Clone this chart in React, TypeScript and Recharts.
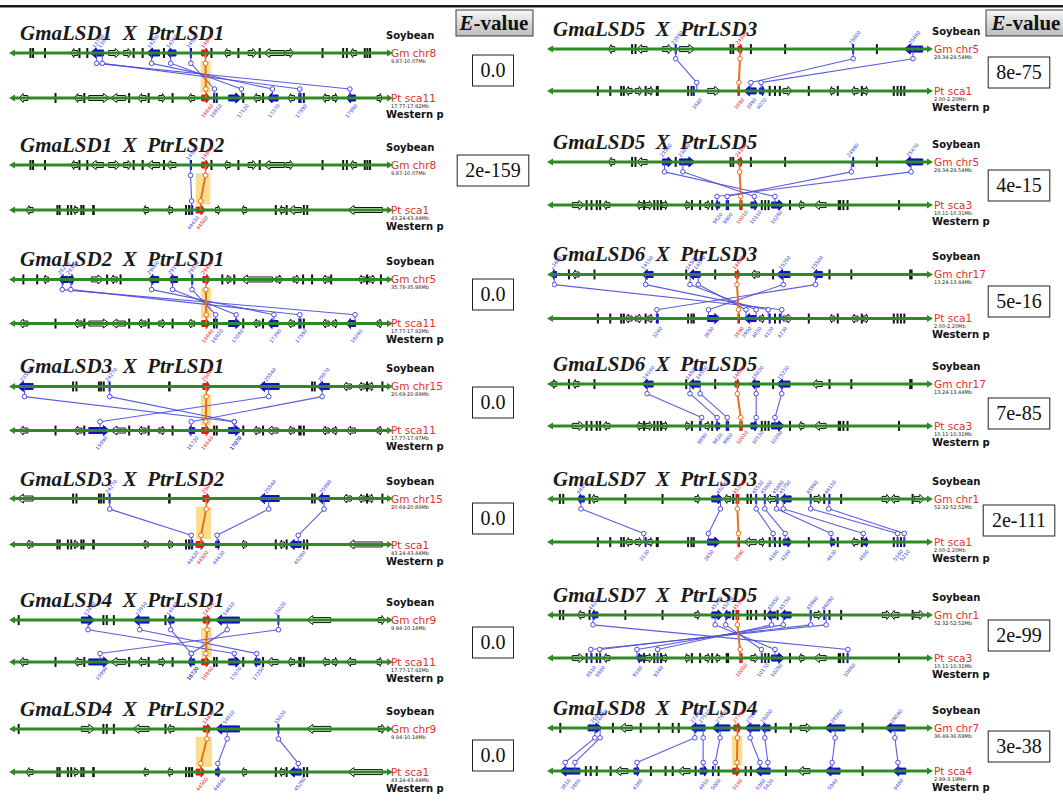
import React from 'react';
import { ComposedChart, XAxis, YAxis, ReferenceLine, ReferenceArea, ReferenceDot, Scatter } from 'recharts';

// gene = [start, end, strand]; positions are % of the 200 kb window, strand 0 = short gene drawn as a tick
type Gene = [number, number, number];
// link = [soybean position, poplar position]
type Link = [number, number];

// ---- soybean windows ----
const gmChr8: Gene[] = [
  [4.2, 4.6, 0], [4.9, 5.3, 0], [8.1, 8.5, 0], [15.2, 17.0, -1], [17.3, 17.7, 0], [19.4, 19.8, 0],
  [20.4, 23.9, -1], [25.3, 28.5, 1], [29.3, 31.5, 1], [31.8, 32.2, 0], [34.2, 34.6, 0], [35.5, 38.9, -1],
  [39.9, 40.3, 0], [40.8, 43.3, -1], [47.0, 47.6, 0], [50.2, 52.2, 1], [52.6, 53.0, 0], [56.2, 57.8, -1],
  [59.8, 60.2, 0], [62.6, 64.9, 1], [65.5, 65.9, 0], [66.8, 72.3, -1], [72.7, 74.8, 1], [82.3, 82.7, 0],
  [87.8, 88.2, 0], [88.8, 89.2, 0], [89.8, 91.6, -1], [93.6, 94.0, 0], [94.3, 94.7, 0], [95.0, 95.4, 0],
];
const gmChr5a: Gene[] = [
  [2.3, 2.7, 0], [6.0, 6.4, 0], [7.8, 9.2, -1], [12.0, 14.5, -1], [14.7, 16.1, 1], [20.7, 23.9, 1],
  [24.7, 25.1, 0], [25.8, 27.6, -1], [28.3, 28.7, 0], [35.9, 38.7, -1], [41.4, 43.7, -1], [47.4, 47.9, 0],
  [50.5, 52.4, 1], [55.5, 55.9, 0], [56.6, 58.0, -1], [58.7, 59.1, 0], [60.8, 69.1, -1], [70.0, 71.8, 1],
  [74.6, 76.4, 1], [77.1, 77.5, 0], [79.5, 79.9, 0], [82.4, 84.3, -1], [84.6, 85.0, 0], [92.1, 93.9, -1],
  [94.2, 94.6, 0], [94.8, 96.7, 1], [97.9, 98.3, 0],
];
const gmChr15: Gene[] = [
  [0.9, 5.1, -1], [15.6, 16.0, 0], [16.5, 16.9, 0], [22.5, 22.9, 0], [23.1, 23.5, 0], [23.8, 24.2, 0],
  [25.3, 25.8, 0], [41.2, 41.9, 0], [50.5, 52.5, 1], [65.4, 70.9, -1], [79.5, 79.9, 0], [80.2, 80.6, 0],
  [81.0, 84.3, -1], [87.9, 90.2, -1], [92.1, 93.9, -1], [94.2, 94.6, 0], [94.8, 96.2, 1], [98.3, 98.7, 0],
];
const gmChr9: Gene[] = [
  [1.0, 1.5, 0], [18.0, 21.6, 1], [23.7, 24.1, 0], [24.6, 25.0, 0], [26.5, 26.9, 0], [31.8, 36.1, -1],
  [40.3, 40.7, 0], [41.0, 42.8, -1], [50.6, 52.7, 1], [53.9, 60.3, -1], [70.5, 70.9, 0], [78.3, 84.7, -1],
  [97.4, 99.2, 1],
];
const gmChr5b: Gene[] = [
  [15.0, 16.7, -1], [21.1, 21.5, 0], [22.0, 22.4, 0], [22.6, 25.3, -1], [29.4, 32.1, 1], [32.7, 33.1, 0],
  [33.9, 38.0, 1], [47.3, 47.7, 0], [48.0, 48.4, 0], [49.5, 50.7, 1], [52.7, 53.1, 0], [61.8, 62.2, 0],
  [79.9, 80.3, 0], [86.2, 86.6, 0], [93.7, 98.6, -1],
];
const gmChr17: Gene[] = [
  [0.0, 1.2, -1], [4.3, 4.7, 0], [5.4, 7.2, -1], [11.1, 11.5, 0], [24.0, 26.9, -1], [35.5, 35.9, 0],
  [36.2, 39.4, -1], [43.2, 43.6, 0], [48.7, 49.9, 1], [52.9, 55.2, -1], [58.6, 59.0, 0], [59.7, 63.3, -1],
  [69.2, 71.9, -1], [73.6, 74.0, 0], [79.4, 79.8, 0], [95.0, 95.9, 1],
];
const gmChr1: Gene[] = [
  [1.9, 2.3, 0], [2.8, 3.2, 0], [6.8, 8.6, -1], [9.8, 10.2, 0], [10.4, 12.2, -1], [19.3, 19.7, 0],
  [29.2, 29.6, 0], [38.0, 39.4, 1], [42.5, 45.5, 1], [45.7, 47.5, -1], [48.0, 48.4, 0], [48.8, 49.8, 1],
  [51.8, 52.2, 0], [52.7, 53.1, 0], [54.1, 54.5, 0], [56.4, 56.8, 0], [57.0, 59.5, -1], [59.8, 60.2, 0],
  [60.6, 63.6, -1], [68.6, 69.0, 0], [69.7, 71.8, 1], [72.2, 72.6, 0], [73.6, 74.0, 0], [76.7, 77.1, 0],
  [87.8, 90.0, 1], [90.0, 92.3, -1], [95.7, 96.1, 0], [96.4, 99.0, 1],
];
const gmChr7: Gene[] = [
  [2.0, 2.4, 0], [9.6, 13.3, 1], [16.0, 16.4, 0], [18.0, 21.3, -1], [23.4, 23.8, 0], [28.2, 28.6, 0],
  [31.9, 32.3, 0], [33.5, 33.9, 0], [36.7, 40.7, -1], [42.6, 47.3, -1], [48.4, 50.3, 1], [51.3, 55.3, -1],
  [55.5, 58.0, -1], [59.3, 59.7, 0], [63.3, 63.7, 0], [66.0, 69.0, 1], [72.6, 77.9, -1], [82.4, 82.8, 0],
  [88.6, 93.9, -1],
];

// ---- poplar windows ----
const ptSca11: Gene[] = [
  [1.4, 3.7, -1], [10.9, 11.3, 0], [16.1, 18.2, -1], [18.6, 19.0, 0], [20.0, 25.5, 1], [25.9, 29.8, -1],
  [30.6, 31.0, 0], [33.1, 35.3, -1], [35.8, 36.2, 0], [38.7, 40.5, 1], [42.2, 42.6, 0], [46.5, 48.3, -1],
  [50.2, 52.4, 1], [53.3, 53.7, 0], [54.0, 54.4, 0], [57.4, 60.8, 1], [61.1, 61.5, 0], [64.0, 65.8, -1],
  [66.4, 66.8, 0], [67.7, 70.6, -1], [73.2, 75.0, -1], [76.0, 76.9, 0], [77.3, 77.7, 0], [82.4, 84.3, -1],
  [85.2, 86.6, 1], [88.9, 91.3, -1], [97.1, 98.5, 1],
];
const ptSca1a: Gene[] = [
  [3.2, 5.1, -1], [11.4, 11.8, 0], [12.0, 12.4, 0], [14.2, 14.6, 0], [15.1, 15.5, 0], [15.8, 17.0, -1],
  [17.8, 18.2, 0], [18.4, 18.8, 0], [20.9, 21.6, 0], [34.5, 35.9, -1], [41.0, 42.4, -1], [45.8, 46.2, 0],
  [46.6, 47.0, 0], [47.2, 47.9, 0], [48.7, 51.1, 1], [53.9, 55.2, 1], [60.8, 62.2, -1], [69.8, 70.2, 0],
  [70.9, 72.3, -1], [72.7, 73.1, 0], [73.4, 76.8, -1], [77.3, 77.7, 0], [78.2, 78.6, 0], [89.3, 98.5, -1],
];
const ptSca1b: Gene[] = [
  [12.0, 12.4, 0], [15.3, 15.7, 0], [18.2, 18.6, 0], [18.9, 19.3, 0], [19.5, 21.3, -1], [22.2, 24.0, 1],
  [24.7, 25.1, 0], [25.5, 26.9, 1], [27.6, 28.4, 0], [36.0, 36.4, 0], [36.9, 37.3, 0], [37.5, 37.9, 0],
  [41.4, 44.8, 1], [49.3, 50.0, 0], [51.1, 54.3, -1], [55.2, 56.6, 1], [57.7, 58.1, 0], [59.1, 59.5, 0],
  [60.4, 60.8, 0], [61.5, 63.8, 1], [68.1, 68.5, 0], [73.8, 75.1, -1], [75.8, 76.2, 0], [79.6, 81.4, -1],
  [82.2, 82.6, 0], [82.8, 84.2, 1], [90.7, 91.1, 0], [91.7, 92.1, 0], [92.6, 93.0, 0], [93.5, 93.9, 0],
];
const ptSca3: Gene[] = [
  [5.4, 8.6, 1], [9.0, 9.4, 0], [10.3, 10.7, 0], [11.7, 12.1, 0], [12.6, 13.0, 0], [13.6, 15.4, -1],
  [22.6, 24.0, -1], [24.3, 24.7, 0], [24.9, 26.7, 1], [27.0, 27.4, 0], [27.9, 28.3, 0], [28.8, 29.2, 0],
  [29.4, 30.8, 1], [35.3, 36.5, -1], [37.0, 37.4, 0], [39.2, 39.6, 0], [40.7, 42.1, 1], [42.4, 42.8, 0],
  [43.4, 44.6, -1], [46.2, 47.1, -1], [49.8, 50.7, 1], [52.9, 54.8, 1], [55.6, 56.0, 0], [56.5, 56.9, 0],
  [57.4, 57.8, 0], [58.4, 61.8, 1], [63.1, 63.5, 0], [65.6, 67.0, -1], [69.7, 72.9, -1], [76.0, 76.9, 1],
  [77.3, 77.7, 0], [78.4, 78.8, 0], [92.1, 92.5, 0],
];
const ptSca4: Gene[] = [
  [2.1, 7.4, -1], [8.8, 9.2, 0], [10.1, 10.5, 0], [11.7, 12.1, 0], [15.4, 15.8, 0], [16.8, 20.2, -1],
  [21.8, 23.4, 1], [26.1, 26.5, 0], [30.0, 30.4, 0], [31.9, 32.3, 0], [33.5, 36.7, -1], [38.0, 38.4, 0],
  [39.4, 41.5, 1], [42.6, 43.0, 0], [44.1, 44.5, 0], [48.1, 50.0, 1], [51.3, 51.7, 0], [52.7, 53.1, 0],
  [54.0, 58.0, -1], [62.0, 62.4, 0], [65.4, 68.6, -1], [72.6, 76.6, -1], [82.4, 82.8, 0], [90.7, 94.1, -1],
];

// ---- panels: 0-6 left column, 7-13 right column ----
const titles = [
  'GmaLSD1  X  PtrLSD1', 'GmaLSD1  X  PtrLSD2', 'GmaLSD2  X  PtrLSD1', 'GmaLSD3  X  PtrLSD1',
  'GmaLSD3  X  PtrLSD2', 'GmaLSD4  X  PtrLSD1', 'GmaLSD4  X  PtrLSD2',
  'GmaLSD5  X  PtrLSD3', 'GmaLSD5  X  PtrLSD5', 'GmaLSD6  X  PtrLSD3', 'GmaLSD6  X  PtrLSD5',
  'GmaLSD7  X  PtrLSD3', 'GmaLSD7  X  PtrLSD5', 'GmaLSD8  X  PtrLSD4',
];
const eValues = ['0.0', '2e-159', '0.0', '0.0', '0.0', '0.0', '0.0', '8e-75', '4e-15', '5e-16', '7e-85', '2e-111', '2e-99', '3e-38'];
const topNames = ['Gm chr8', 'Gm chr8', 'Gm chr5', 'Gm chr15', 'Gm chr15', 'Gm chr9', 'Gm chr9', 'Gm chr5', 'Gm chr5', 'Gm chr17', 'Gm chr17', 'Gm chr1', 'Gm chr1', 'Gm chr7'];
const topRanges = ['9.87-10.07Mb', '9.87-10.07Mb', '35.78-35.98Mb', '20.69-20.89Mb', '20.69-20.89Mb', '9.94-10.14Mb', '9.94-10.14Mb', '29.34-29.54Mb', '29.34-29.54Mb', '13.24-13.44Mb', '13.24-13.44Mb', '52.32-52.52Mb', '52.32-52.52Mb', '36.49-36.69Mb'];
const botNames = ['Pt sca11', 'Pt sca1', 'Pt sca11', 'Pt sca11', 'Pt sca1', 'Pt sca11', 'Pt sca1', 'Pt sca1', 'Pt sca3', 'Pt sca1', 'Pt sca3', 'Pt sca1', 'Pt sca3', 'Pt sca4'];
const botRanges = ['17.77-17.92Mb', '43.24-43.44Mb', '17.77-17.92Mb', '17.77-17.97Mb', '43.24-43.44Mb', '17.77-17.92Mb', '43.24-43.44Mb', '2.00-2.20Mb', '10.11-10.31Mb', '2.00-2.20Mb', '10.11-10.31Mb', '2.00-2.20Mb', '10.11-10.31Mb', '2.99-3.19Mb'];
const topGenes: Gene[][] = [gmChr8, gmChr8, gmChr5a, gmChr15, gmChr15, gmChr9, gmChr9, gmChr5b, gmChr5b, gmChr17, gmChr17, gmChr1, gmChr1, gmChr7];
const botGenes: Gene[][] = [ptSca11, ptSca1a, ptSca11, ptSca11, ptSca1a, ptSca11, ptSca1a, ptSca1b, ptSca3, ptSca1b, ptSca3, ptSca1b, ptSca3, ptSca4];
const homologLinks: Link[][] = [
  [[22.1, 89.8], [23.6, 76.4], [36.8, 69.1], [41.9, 60.8], [47.3, 53.6]],
  [[47.2, 47.5]],
  [[12.9, 91.2], [15.2, 76.4], [36.8, 69.5], [42.4, 59.4], [47.6, 53.9]],
  [[2.8, 58.9], [25.6, 58.9], [68.1, 23.0], [82.4, 47.4]],
  [[25.6, 47.4], [68.1, 54.3], [82.9, 76.0]],
  [[19.8, 58.9], [33.6, 64.9], [41.9, 47.4], [57.0, 47.4], [70.7, 23.0]],
  [[57.0, 54.5], [70.7, 76.0]],
  [[32.9, 38.5], [80.1, 52.9], [96.0, 55.6]],
  [[29.9, 59.3], [34.8, 53.8], [79.6, 46.6], [95.5, 43.9]],
  [[0.6, 61.1], [24.9, 57.5], [36.7, 54.3], [38.9, 51.6], [61.5, 41.6], [70.1, 27.9]],
  [[25.3, 39.8], [36.7, 43.9], [39.4, 46.6], [54.3, 54.3], [61.1, 59.3]],
  [[7.7, 24.4], [44.8, 41.6], [54.3, 58.8], [56.6, 62.0], [59.7, 74.2], [61.5, 82.8], [68.8, 91.9], [73.6, 93.7]],
  [[10.9, 78.7], [43.4, 59.3], [46.2, 55.7], [58.4, 28.1], [61.5, 22.6], [68.8, 12.7], [72.9, 10.3]],
  [[11.4, 3.5], [12.8, 6.1], [38.0, 22.6], [40.2, 40.2], [44.7, 43.4], [52.7, 55.3], [56.6, 57.4], [75.3, 74.5], [91.2, 92.0]],
];
// the LSD pair itself (red genes, orange link)
const focusLinks: Link[] = [
  [51.2, 51.3], [51.2, 49.9], [51.3, 51.4], [51.4, 51.3], [51.4, 50.0], [51.6, 51.3], [51.6, 49.9],
  [50.0, 49.7], [49.9, 50.2], [49.2, 49.6], [49.3, 50.2], [49.3, 49.6], [49.3, 50.0], [49.3, 49.2],
];
const topIdBase = [13100, 13100, 27900, 23500, 23500, 12900, 12900, 22600, 22600, 13400, 13400, 43900, 43900, 26300];
const botIdBase = [15300, 43000, 15300, 15300, 43000, 15300, 43000, 2400, 8500, 2400, 8500, 2400, 8500, 3700];

// ---- layout ----
const COL_X = [0, 538];
const PLOT_W = [374, 376];
const TRACK_TOP = [53, 165, 279, 386, 499, 620, 729, 49, 162, 274, 384, 499, 615, 728];
const TRACK_BOT = [98, 210, 323, 430, 545, 662, 772, 91, 205, 318, 426, 542, 658, 771];
const EBOX_TOP = [55, 155, 279, 387, 503, 627, 740, 57, 170, 286, 398, 505, 620, 731];
const EBOX_CX = [493, 1019];
const HIGHLIGHT = [true, true, true, true, true, true, true, false, false, false, false, false, false, true];

const GREEN = '#2e8b24';
const BLUE = '#1010c2';
const LINK = '#4a4ade';
const RED = '#e3161b';
const ORANGE = '#e8701a';
const INK = '#161616';
const C_TOP = 0.77;
const C_BOT = 0.2;

function paintGenes(genes: Gene[], blue: number[], red: number) {
  const nearest = (p: number) => {
    let best = 0;
    let bd = Infinity;
    genes.forEach((g, k) => {
      const d = p < g[0] ? g[0] - p : p > g[1] ? p - g[1] : 0;
      if (d < bd) { bd = d; best = k; }
    });
    return best;
  };
  const paint = genes.map(() => 'n');
  blue.forEach((p) => { paint[nearest(p)] = 'b'; });
  paint[nearest(red)] = 'r';
  return paint;
}

function geneShape(g: Gene, paint: string) {
  return (p: any) => {
    const x = p.x;
    const w = p.width;
    const cy = p.y + p.height / 2;
    const col = paint === 'b' ? BLUE : paint === 'r' ? RED : INK;
    if (g[2] === 0 || w < 4) {
      const bw = Math.max(2, w);
      return <rect x={x + w / 2 - bw / 2} y={cy - 5} width={bw} height={10} fill={col} />;
    }
    const filled = paint !== 'n';
    const bh = filled ? 3 : 2.5;
    const hh = filled ? 5 : 4.5;
    const hl = Math.min(6, w * 0.45);
    let pts: number[][];
    if (g[2] > 0) {
      const xb = x + w - hl;
      pts = [[x, cy - bh], [xb, cy - bh], [xb, cy - hh], [x + w, cy], [xb, cy + hh], [xb, cy + bh], [x, cy + bh]];
    } else {
      const xb = x + hl;
      pts = [[x + w, cy - bh], [xb, cy - bh], [xb, cy - hh], [x, cy], [xb, cy + hh], [xb, cy + bh], [x + w, cy + bh]];
    }
    return (
      <polygon
        points={pts.map((q) => q.join(',')).join(' ')}
        fill={filled ? col : '#fff'}
        stroke={col}
        strokeWidth={1}
      />
    );
  };
}

const endArrow = (dir: number) => (p: any) => (
  <path
    d={`M${p.cx + dir * 5},${p.cy} L${p.cx - dir * 1},${p.cy - 3.5} L${p.cx - dir * 1},${p.cy + 3.5} Z`}
    fill={GREEN}
  />
);

const ringShape = (p: any) => (
  <circle cx={p.cx} cy={p.cy} r={2.3} fill="#fff" stroke={p.payload.c} strokeWidth={1} />
);

const idShape = (p: any) => (
  <text
    x={p.cx - 2}
    y={p.cy}
    transform={`rotate(-52 ${p.cx - 2} ${p.cy})`}
    fontSize={5}
    fontFamily="DejaVu Sans"
    fill={p.payload.c}
  >
    {p.payload.t}
  </text>
);

function SyntenyPanel({ i }: { i: number }) {
  const col = i < 7 ? 0 : 1;
  const top = TRACK_TOP[i];
  const span = TRACK_BOT[i] - top;
  const H = Math.round(span * 2.2);
  const W = 530;
  const tg = topGenes[i];
  const bg = botGenes[i];
  const links = homologLinks[i];
  const main = focusLinks[i];
  const tPaint = paintGenes(tg, links.map((l) => l[0]), main[0]);
  const bPaint = paintGenes(bg, links.map((l) => l[1]), main[1]);

  const rings = [
    ...links.flatMap((l) => [{ x: l[0], y: C_TOP, c: LINK }, { x: l[1], y: C_BOT, c: LINK }]),
    { x: main[0], y: C_TOP, c: ORANGE },
    { x: main[1], y: C_BOT, c: ORANGE },
  ];
  const ids = [
    ...links.map((l) => ({ x: l[0], y: 1.1, c: '#3d3dd6', t: String(topIdBase[i] + Math.round(l[0] * 3) * 10) })),
    ...links.map((l) => ({ x: l[1], y: -0.45, c: '#3d3dd6', t: String(botIdBase[i] + Math.round(l[1] * 3) * 10) })),
    { x: main[0], y: 1.1, c: RED, t: String(topIdBase[i] + Math.round(main[0] * 3) * 10) },
    { x: main[1], y: -0.45, c: RED, t: String(botIdBase[i] + Math.round(main[1] * 3) * 10) },
  ];

  return (
    <div style={{ position: 'absolute', left: COL_X[col], top: top - span * 0.6, width: W, height: H }}>
      <ComposedChart width={W} height={H} margin={{ top: 0, right: W - 14 - PLOT_W[col], bottom: 0, left: 14 }}>
        <XAxis type="number" dataKey="x" domain={[0, 100]} hide allowDataOverflow />
        <YAxis type="number" dataKey="y" domain={[-0.6, 1.6]} hide allowDataOverflow />

        <ReferenceLine segment={[{ x: 0, y: 1 }, { x: 100, y: 1 }]} stroke={GREEN} strokeWidth={3} />
        <ReferenceLine segment={[{ x: 0, y: 0 }, { x: 100, y: 0 }]} stroke={GREEN} strokeWidth={3} />

        {HIGHLIGHT[i] && (
          <ReferenceArea
            x1={Math.min(main[0], main[1]) - 1.3}
            x2={Math.max(main[0], main[1]) + 1.3}
            y1={0.12}
            y2={0.82}
            fill="#f6c744"
            fillOpacity={0.6}
            stroke="none"
          />
        )}

        {links.map((l, k) => (
          <ReferenceLine key={`a${k}`} segment={[{ x: l[0], y: 1 }, { x: l[0], y: C_TOP }]} stroke={LINK} strokeWidth={1} />
        ))}
        {links.map((l, k) => (
          <ReferenceLine key={`b${k}`} segment={[{ x: l[0], y: C_TOP }, { x: l[1], y: C_BOT }]} stroke={LINK} strokeWidth={1.1} strokeOpacity={0.9} />
        ))}
        {links.map((l, k) => (
          <ReferenceLine key={`c${k}`} segment={[{ x: l[1], y: C_BOT }, { x: l[1], y: 0 }]} stroke={LINK} strokeWidth={1} />
        ))}
        <ReferenceLine segment={[{ x: main[0], y: 1 }, { x: main[0], y: C_TOP }]} stroke={ORANGE} strokeWidth={1.5} />
        <ReferenceLine segment={[{ x: main[0], y: C_TOP }, { x: main[1], y: C_BOT }]} stroke={ORANGE} strokeWidth={2} />
        <ReferenceLine segment={[{ x: main[1], y: C_BOT }, { x: main[1], y: 0 }]} stroke={ORANGE} strokeWidth={1.5} />

        {tg.map((g, k) => (
          <ReferenceArea key={`t${k}`} x1={g[0]} x2={g[1]} y1={0.9} y2={1.1} shape={geneShape(g, tPaint[k])} />
        ))}
        {bg.map((g, k) => (
          <ReferenceArea key={`u${k}`} x1={g[0]} x2={g[1]} y1={-0.1} y2={0.1} shape={geneShape(g, bPaint[k])} />
        ))}

        <ReferenceDot x={0} y={1} r={3} shape={endArrow(-1)} />
        <ReferenceDot x={100} y={1} r={3} shape={endArrow(1)} />
        <ReferenceDot x={0} y={0} r={3} shape={endArrow(-1)} />
        <ReferenceDot x={100} y={0} r={3} shape={endArrow(1)} />

        <Scatter data={rings} shape={ringShape} isAnimationActive={false} />
        <Scatter data={ids} shape={idShape} isAnimationActive={false} />
      </ComposedChart>
    </div>
  );
}

const serif = '"Liberation Serif", "Times New Roman", serif';
const sans = '"DejaVu Sans", sans-serif';

function Overlay() {
  const charW = (s: string) =>
    s.split('').reduce((a, ch) => a + (ch === '-' ? 6.7 : ch === '.' ? 5 : ch === 'e' ? 8.9 : 10), 0);
  return (
    <svg width={1063} height={804} style={{ position: 'absolute', left: 0, top: 0 }}>
      <defs>
        <linearGradient id="hdr" x1="0" y1="0" x2="0" y2="1">
          <stop offset="0" stopColor="#f7f7f7" />
          <stop offset="1" stopColor="#bcbcbc" />
        </linearGradient>
      </defs>
      <rect x={0} y={5} width={1063} height={2.5} fill="#1c1c1c" />
      {[{ x: 456, w: 77, cx: 494 }, { x: 986, w: 82, cx: 1026 }].map((h, k) => (
        <g key={k}>
          <rect x={h.x} y={10} width={h.w} height={26} fill="url(#hdr)" stroke="#3a3a3a" strokeWidth={1} />
          <text x={h.cx} y={30} textAnchor="middle" fontFamily={serif} fontSize={21} fontWeight="bold" fill="#111">
            <tspan fontStyle="italic">E</tspan>-value
          </text>
        </g>
      ))}
      {titles.map((t, i) => {
        const col = i < 7 ? 0 : 1;
        const top = TRACK_TOP[i];
        const bot = TRACK_BOT[i];
        const tx = col === 0 ? 20 : 553;
        const lx = col === 0 ? 391 : 934;
        const sx = col === 0 ? 386 : 932;
        const bw = charW(eValues[i]) + 16;
        return (
          <g key={i}>
            <text x={tx} y={top - 13} fontFamily={serif} fontSize={21} fontWeight="bold" fontStyle="italic" fill="#1a1a1a" style={{ whiteSpace: 'pre' }} xmlSpace="preserve">
              {t}
            </text>
            <text x={sx} y={top - 14} fontFamily={sans} fontSize={10} fontWeight="bold" fill="#111">Soybean</text>
            <text x={lx} y={top + 4} fontFamily={sans} fontSize={10.5} fill="#e3302a">{topNames[i]}</text>
            <text x={lx} y={top + 10} fontFamily={sans} fontSize={5} fill="#222">{topRanges[i]}</text>
            <text x={lx} y={bot + 4} fontFamily={sans} fontSize={10.5} fill="#e3302a">{botNames[i]}</text>
            <text x={lx} y={bot + 10} fontFamily={sans} fontSize={5} fill="#222">{botRanges[i]}</text>
            <text x={sx} y={bot + 20} fontFamily={sans} fontSize={10} fontWeight="bold" fill="#111">Western p</text>
            <rect x={EBOX_CX[col] - bw / 2} y={EBOX_TOP[i]} width={bw} height={31} fill="#fff" stroke="#222" strokeWidth={1} />
            <text x={EBOX_CX[col]} y={EBOX_TOP[i] + 22} textAnchor="middle" fontFamily={serif} fontSize={20} fill="#111">
              {eValues[i]}
            </text>
          </g>
        );
      })}
    </svg>
  );
}

export default function App() {
  return (
    <div style={{ position: 'absolute', left: 0, top: 0, width: 1063, height: 804, background: '#fff', overflow: 'hidden' }}>
      <Overlay />
      {titles.map((_, i) => (
        <SyntenyPanel key={i} i={i} />
      ))}
    </div>
  );
}
